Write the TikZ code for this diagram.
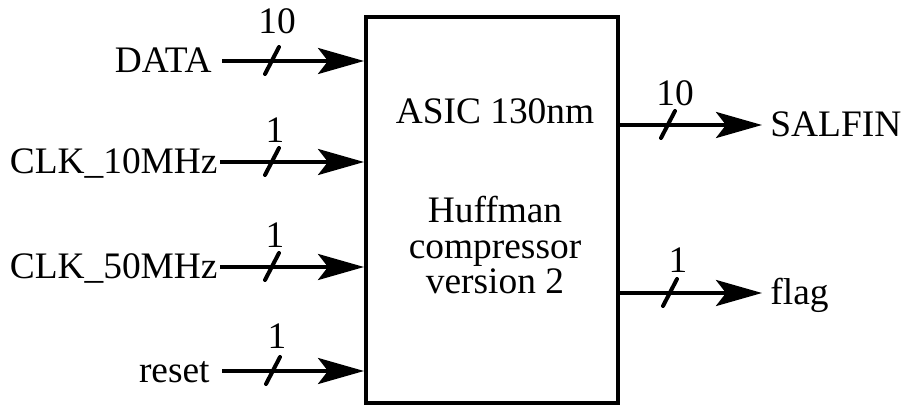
\documentclass[tikz,border=0pt]{standalone}
\usepackage{fontspec}
\setmainfont{Liberation Serif}
\usetikzlibrary{arrows.meta}
\begin{document}
\begin{tikzpicture}[x=0.5pt,y=-0.5pt,
  txt/.style={inner sep=0pt,font=\fontsize{18.7}{21}\selectfont},
  sig/.style={line width=2pt,-{Stealth[length=23pt,width=13pt,inset=5pt]}},
  busmark/.style={line width=2pt,line cap=round},
  chip/.style={draw,line width=2pt,minimum width=126pt,minimum height=193pt,inner sep=0pt}]
\useasboundingbox (0,0) rectangle (901,407);
\node[chip] (asic) at (492,210) {};
\node[txt,anchor=base] (t1) at (495,123) {ASIC 130nm};
\node[txt,anchor=base] (t2) at (495,222) {Huffman};
\node[txt,anchor=base] (t3) at (495,258) {compressor};
\node[txt,anchor=base] (t4) at (495,293) {version 2};
% inputs
\node[txt,anchor=base east] (ldata) at (212,72) {DATA};
\node[txt,anchor=base east] (lclka) at (218,173) {CLK\_10MHz};
\node[txt,anchor=base east] (lclkb) at (218,278) {CLK\_50MHz};
\node[txt,anchor=base east] (lrst) at (210,382) {reset};
\coordinate (sdata) at (222,61);
\coordinate (sclka) at (220,162);
\coordinate (sclkb) at (220,267);
\coordinate (srst) at (222,371);
\draw[sig] (sdata) -- (asic.west |- sdata);
\draw[sig] (sclka) -- (asic.west |- sclka);
\draw[sig] (sclkb) -- (asic.west |- sclkb);
\draw[sig] (srst) -- (asic.west |- srst);
\draw[busmark] (265,74) -- (279,47);
\draw[busmark] (265,175) -- (279,148);
\draw[busmark] (265,280) -- (279,253);
\draw[busmark] (266,384) -- (280,357);
\node[txt,anchor=base] (ndata) at (277,33) {10};
\node[txt,anchor=base] (nclka) at (275,142) {1};
\node[txt,anchor=base] (nclkb) at (275,247) {1};
\node[txt,anchor=base] (nrst) at (277,348) {1};
% outputs
\coordinate (esal) at (762,125);
\coordinate (eflag) at (762,293);
\draw[sig] (asic.east |- esal) -- (esal);
\draw[sig] (asic.east |- eflag) -- (eflag);
\node[txt,anchor=base west] (lsal) at (770,136) {SALFIN};
\node[txt,anchor=base west] (lflag) at (770,304) {flag};
\draw[busmark] (661,138) -- (675,111);
\draw[busmark] (663,306) -- (677,279);
\node[txt,anchor=base] (nsal) at (675,105) {10};
\node[txt,anchor=base] (nflag) at (678,272) {1};
\end{tikzpicture}
\end{document}
